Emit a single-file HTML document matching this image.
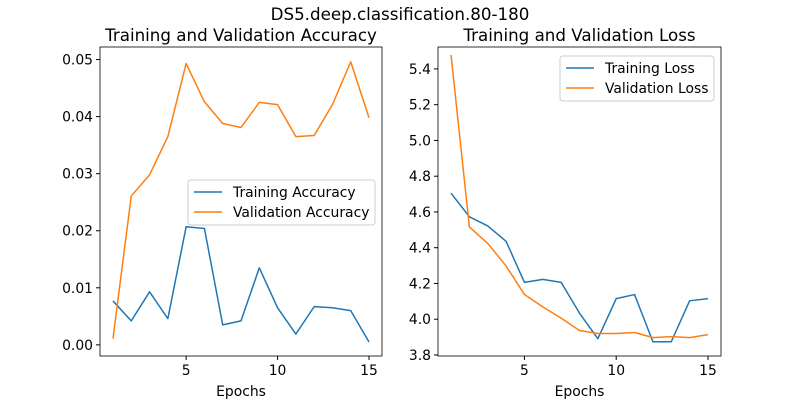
<!DOCTYPE html>
<html><head><meta charset="utf-8"><style>
body{margin:0;background:#fff;}
svg text{font-family:"DejaVu Sans","Liberation Sans",sans-serif;fill:#000;}
</style></head><body>
<svg id="chart" width="800" height="400" xmlns="http://www.w3.org/2000/svg"></svg>
<script>
const epochs=[1,2,3,4,5,6,7,8,9,10,11,12,13,14,15];
const trainAcc=[0.0077,0.0042,0.0093,0.0046,0.0207,0.0204,0.0035,0.0042,0.0135,0.0065,0.0019,0.0067,0.0065,0.0060,0.0005];
const valAcc=[0.0011,0.0261,0.0298,0.0365,0.0493,0.0426,0.0388,0.0381,0.0425,0.0421,0.0365,0.0367,0.0421,0.0496,0.0398];
const trainLoss=[4.705,4.573,4.522,4.436,4.206,4.223,4.206,4.034,3.891,4.115,4.138,3.874,3.874,4.103,4.115];
const valLoss=[5.478,4.516,4.424,4.298,4.138,4.069,4.006,3.937,3.920,3.920,3.926,3.897,3.903,3.897,3.914];
const xTicks=[5,10,15];
const accTicks=[0,0.01,0.02,0.03,0.04,0.05];
const lossTicks=[3.8,4.0,4.2,4.4,4.6,4.8,5.0,5.2,5.4];
const NS="http://www.w3.org/2000/svg";
const svg=document.getElementById('chart');
function el(tag,attrs,parent){const e=document.createElementNS(NS,tag);for(const k in attrs)e.setAttribute(k,attrs[k]);(parent||svg).appendChild(e);return e;}
function txt(s,attrs){const t=el('text',attrs);t.textContent=s;return t;}
const t0=txt('DS5.deep.classification.80-180',{x:400,y:20,'text-anchor':'middle','font-size':16.7});



function panel(name,L,R,T,B,xmin,xmax,ymin,ymax,yt,fmt,series,title,legend){
  const g=el('g',{});
  
  
  const sx=v=>L+(v-xmin)/(xmax-xmin)*(R-L);
  const sy=v=>B-(v-ymin)/(ymax-ymin)*(B-T);
  const tt=txt(title,{x:(L+R)/2,y:T-6,'text-anchor':'middle','font-size':16.7});
  
  
  xTicks.forEach(v=>{const x=sx(v);el('line',{x1:x,x2:x,y1:B,y2:B+4,stroke:'#000'},g);
    const l=txt(String(v),{x:x,y:B+19,'text-anchor':'middle','font-size':13.9});
    
    });
  yt.forEach(v=>{const y=sy(v);el('line',{x1:L-4,x2:L,y1:y,y2:y,stroke:'#000'},g);
    const l=txt(fmt(v),{x:L-7,y:y+5,'text-anchor':'end','font-size':13.9});
    
    });
  const xl=txt('Epochs',{x:(L+R)/2,y:B+40,'text-anchor':'middle','font-size':13.9});
  
  
  series.forEach(s=>{
    const p=el('polyline',{points:epochs.map((e,i)=>sx(e)+','+sy(s.d[i])).join(' '),fill:'none',stroke:s.c,'stroke-width':1.5,'stroke-linejoin':'round'},g);
    
    
  });
  el('rect',{x:L,y:T,width:R-L,height:B-T,fill:'none',stroke:'#000','stroke-width':0.8},g);
  const lg=el('g',{});
  
  
  el('rect',{x:legend.x,y:legend.y,width:legend.w,height:45,rx:3,fill:'#fff',stroke:'#ccc'},lg);
  series.forEach((s,i)=>{const y=legend.y+12+i*20;
    el('line',{x1:legend.x+6,x2:legend.x+34,y1:y,y2:y,stroke:s.c,'stroke-width':1.5},lg);
    const t=txt(s.label,{x:legend.x+45,y:y+5,'font-size':13.9});
    
    
    lg.appendChild(t);});
}
panel('accuracy-panel',100,382,47,356,0.29,15.71,-0.00195,0.0522,accTicks,v=>v.toFixed(2),
  [{d:trainAcc,c:'#1f77b4',n:'training-accuracy-line',label:'Training Accuracy'},{d:valAcc,c:'#ff7f0e',n:'validation-accuracy-line',label:'Validation Accuracy'}],
  'Training and Validation Accuracy',{x:188,y:180,w:187});
panel('loss-panel',438,721,47,356,0.29,15.71,3.7943,5.5226,lossTicks,v=>v.toFixed(1),
  [{d:trainLoss,c:'#1f77b4',n:'training-loss-line',label:'Training Loss'},{d:valLoss,c:'#ff7f0e',n:'validation-loss-line',label:'Validation Loss'}],
  'Training and Validation Loss',{x:560,y:56,w:154});
</script>
</body></html>
